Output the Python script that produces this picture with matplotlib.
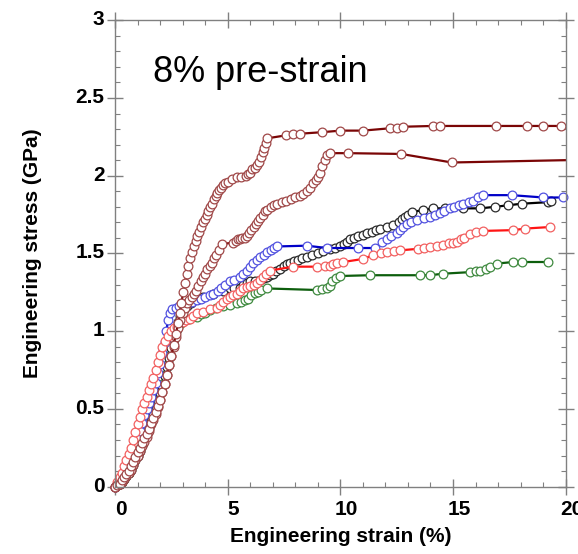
import matplotlib
matplotlib.use("Agg")
import matplotlib.pyplot as plt
import matplotlib.transforms as mtransforms
from matplotlib.ticker import MultipleLocator
import numpy as np

# (strain %, stress GPa), one list per curve
curve_top = [
    (0.0, 0.0), (0.1, 0.01), (0.2, 0.02), (0.3, 0.04), (0.4, 0.06), (0.5, 0.08),
    (0.6, 0.1), (0.7, 0.13), (0.8, 0.16), (0.9, 0.19), (1.0, 0.22), (1.1, 0.25),
    (1.2, 0.28), (1.3, 0.31), (1.4, 0.34), (1.5, 0.37), (1.6, 0.41), (1.7, 0.44),
    (1.8, 0.48), (1.9, 0.52), (2.0, 0.56), (2.1, 0.61), (2.2, 0.66), (2.3, 0.72),
    (2.4, 0.78), (2.5, 0.84), (2.6, 0.91), (2.7, 0.98), (2.8, 1.05), (2.88, 1.12),
    (2.95, 1.18), (3.02, 1.25), (3.1, 1.31), (3.18, 1.37), (3.26, 1.42), (3.34, 1.47),
    (3.42, 1.51), (3.5, 1.55), (3.58, 1.58), (3.66, 1.61), (3.74, 1.64), (3.82, 1.67),
    (3.9, 1.70), (3.98, 1.72), (4.06, 1.75), (4.14, 1.77), (4.22, 1.80), (4.3, 1.82),
    (4.38, 1.85), (4.46, 1.87), (4.54, 1.89), (4.62, 1.91), (4.7, 1.92), (4.8, 1.94),
    (4.9, 1.95), (5.0, 1.96), (5.2, 1.98), (5.4, 1.99), (5.6, 1.99), (5.8, 2.0),
    (5.9, 2.01), (6.0, 2.02), (6.1, 2.04), (6.2, 2.05), (6.3, 2.07), (6.4, 2.09),
    (6.48, 2.12), (6.55, 2.15), (6.62, 2.18), (6.68, 2.21), (6.74, 2.24), (7.6, 2.26),
    (7.9, 2.27), (8.2, 2.27), (9.2, 2.28), (10.0, 2.29), (11.0, 2.29), (12.2, 2.305),
    (12.5, 2.31), (12.8, 2.315), (14.1, 2.32), (14.4, 2.32), (16.9, 2.32), (18.3, 2.32),
    (19.0, 2.32), (19.8, 2.32),
]
curve_second = [
    (0.0, 0.0), (0.1, 0.01), (0.2, 0.02), (0.3, 0.03), (0.4, 0.05), (0.5, 0.07),
    (0.6, 0.09), (0.7, 0.11), (0.8, 0.14), (0.9, 0.17), (1.0, 0.2), (1.1, 0.23),
    (1.2, 0.26), (1.3, 0.29), (1.4, 0.32), (1.5, 0.36), (1.6, 0.40), (1.7, 0.43),
    (1.8, 0.47), (1.9, 0.51), (2.0, 0.56), (2.1, 0.61), (2.2, 0.66), (2.3, 0.72),
    (2.4, 0.78), (2.5, 0.84), (2.6, 0.9), (2.7, 0.96), (2.8, 1.02), (2.9, 1.07),
    (3.0, 1.12), (3.1, 1.15), (3.2, 1.18), (3.3, 1.2), (3.4, 1.22), (3.5, 1.24),
    (3.6, 1.26), (3.7, 1.29), (3.8, 1.32), (3.9, 1.35), (4.0, 1.37), (4.1, 1.4),
    (4.2, 1.42), (4.3, 1.44), (4.4, 1.47), (4.5, 1.49), (4.6, 1.52), (4.75, 1.56),
    (5.25, 1.57), (5.35, 1.58), (5.45, 1.59), (5.55, 1.59), (5.65, 1.6), (5.75, 1.6),
    (5.85, 1.61), (5.95, 1.63), (6.05, 1.65), (6.15, 1.67), (6.25, 1.69), (6.35, 1.71),
    (6.45, 1.73), (6.55, 1.75), (6.65, 1.77), (6.75, 1.78), (6.9, 1.8), (7.05, 1.81),
    (7.2, 1.82), (7.4, 1.83), (7.6, 1.84), (7.8, 1.85), (8.0, 1.86), (8.2, 1.87),
    (8.35, 1.88), (8.5, 1.9), (8.65, 1.92), (8.8, 1.95), (8.9, 1.97), (9.0, 1.99),
    (9.1, 2.02), (9.2, 2.06), (9.3, 2.1), (9.4, 2.13), (9.55, 2.145), (10.35, 2.145),
    (12.7, 2.14), (14.95, 2.085), (20.0, 2.10),
]
curve_blue = [
    (0.0, 0.0), (0.1, 0.02), (0.2, 0.04), (0.3, 0.07), (0.4, 0.1), (0.5, 0.13),
    (0.6, 0.16), (0.7, 0.2), (0.8, 0.24), (0.9, 0.28), (1.0, 0.32), (1.1, 0.36),
    (1.2, 0.41), (1.3, 0.46), (1.4, 0.5), (1.5, 0.54), (1.6, 0.58), (1.7, 0.62),
    (1.8, 0.67), (1.9, 0.73), (2.0, 0.79), (2.1, 0.86), (2.2, 0.93), (2.28, 1.0),
    (2.35, 1.07), (2.42, 1.12), (2.55, 1.14), (2.7, 1.15), (2.85, 1.16), (3.0, 1.17),
    (3.18, 1.18), (3.4, 1.19), (3.63, 1.2), (3.8, 1.21), (4.0, 1.22), (4.2, 1.23),
    (4.36, 1.24), (4.55, 1.26), (4.7, 1.28), (4.9, 1.3), (5.1, 1.32), (5.3, 1.33),
    (5.55, 1.35), (5.7, 1.37), (5.85, 1.39), (6.0, 1.41), (6.14, 1.44), (6.3, 1.46),
    (6.45, 1.48), (6.6, 1.49), (6.75, 1.51), (6.9, 1.52), (7.05, 1.535), (7.18, 1.545),
    (8.5, 1.55), (9.4, 1.535), (10.8, 1.535), (11.54, 1.535), (11.84, 1.575), (12.05, 1.59),
    (12.25, 1.61), (12.5, 1.63), (12.65, 1.65), (12.8, 1.67), (12.95, 1.69), (13.15, 1.7),
    (13.39, 1.715), (13.7, 1.725), (13.98, 1.735), (14.2, 1.745), (14.4, 1.76), (14.6, 1.775),
    (14.87, 1.79), (15.05, 1.8), (15.25, 1.81), (15.46, 1.82), (15.7, 1.83), (15.9, 1.84),
    (16.1, 1.86), (16.35, 1.875), (17.6, 1.875), (19.0, 1.86), (19.9, 1.86),
]
curve_black = [
    (0.0, 0.0), (0.1, 0.01), (0.2, 0.02), (0.3, 0.03), (0.4, 0.05), (0.5, 0.07),
    (0.6, 0.09), (0.7, 0.11), (0.8, 0.14), (0.9, 0.17), (1.0, 0.2), (1.1, 0.23),
    (1.2, 0.27), (1.3, 0.3), (1.4, 0.34), (1.5, 0.38), (1.6, 0.42), (1.7, 0.46),
    (1.8, 0.5), (1.9, 0.55), (2.0, 0.6), (2.1, 0.65), (2.2, 0.71), (2.3, 0.77),
    (2.4, 0.83), (2.5, 0.89), (2.6, 0.95), (2.7, 1.0), (2.8, 1.06), (2.9, 1.1),
    (3.05, 1.14), (3.2, 1.16), (3.35, 1.18), (3.5, 1.2), (3.7, 1.21), (3.92, 1.22),
    (4.36, 1.24), (4.8, 1.26), (5.1, 1.28), (5.3, 1.28), (5.55, 1.28), (5.7, 1.3),
    (5.85, 1.31), (6.0, 1.32), (6.2, 1.32), (6.44, 1.33), (6.6, 1.34), (6.75, 1.35),
    (6.88, 1.36), (7.0, 1.37), (7.15, 1.39), (7.32, 1.4), (7.5, 1.42), (7.65, 1.43),
    (7.77, 1.44), (7.95, 1.45), (8.1, 1.46), (8.3, 1.47), (8.5, 1.48), (8.75, 1.49),
    (9.0, 1.5), (9.25, 1.515), (9.54, 1.53), (9.75, 1.535), (10.0, 1.545), (10.15, 1.56),
    (10.28, 1.575), (10.45, 1.59), (10.6, 1.6), (10.8, 1.61), (11.02, 1.62), (11.2, 1.63),
    (11.4, 1.64), (11.6, 1.65), (11.76, 1.66), (12.05, 1.67), (12.35, 1.68), (12.6, 1.7),
    (12.75, 1.72), (12.87, 1.735), (13.0, 1.75), (13.16, 1.765), (13.68, 1.78), (14.13, 1.79),
    (14.65, 1.79), (15.46, 1.79), (16.2, 1.79), (16.87, 1.8), (17.46, 1.81), (18.05, 1.82),
    (19.23, 1.83), (19.35, 1.84),
]
curve_red = [
    (0.0, 0.0), (0.1, 0.03), (0.22, 0.06), (0.3, 0.09), (0.4, 0.13), (0.5, 0.17),
    (0.6, 0.21), (0.7, 0.25), (0.81, 0.3), (0.9, 0.35), (1.0, 0.4), (1.1, 0.45),
    (1.2, 0.5), (1.3, 0.54), (1.41, 0.58), (1.5, 0.62), (1.6, 0.66), (1.7, 0.7),
    (1.8, 0.75), (1.9, 0.8), (2.0, 0.85), (2.1, 0.9), (2.2, 0.94), (2.35, 0.97),
    (2.5, 1.0), (2.62, 1.02), (2.74, 1.03), (2.85, 1.05), (3.0, 1.06), (3.15, 1.07),
    (3.33, 1.08), (3.48, 1.1), (3.65, 1.115), (3.92, 1.125), (4.2, 1.14), (4.51, 1.15),
    (4.65, 1.17), (4.8, 1.19), (4.95, 1.21), (5.1, 1.22), (5.25, 1.23), (5.4, 1.24),
    (5.55, 1.26), (5.7, 1.275), (5.85, 1.285), (6.0, 1.29), (6.15, 1.3), (6.29, 1.31),
    (6.45, 1.33), (6.58, 1.35), (6.7, 1.37), (6.88, 1.39), (7.9, 1.415), (8.95, 1.415),
    (9.3, 1.42), (9.54, 1.42), (9.69, 1.435), (9.85, 1.44), (10.13, 1.445), (11.02, 1.465),
    (11.46, 1.49), (11.8, 1.5), (12.06, 1.51), (12.4, 1.515), (12.65, 1.52), (13.46, 1.53),
    (13.7, 1.535), (13.98, 1.54), (14.3, 1.545), (14.57, 1.555), (14.8, 1.565), (15.0, 1.57),
    (15.17, 1.575), (15.35, 1.59), (15.5, 1.6), (15.77, 1.625), (16.0, 1.635), (16.35, 1.645),
    (17.68, 1.65), (18.2, 1.66), (19.3, 1.67),
]
curve_green = [
    (0.0, 0.0), (0.1, 0.01), (0.2, 0.02), (0.3, 0.03), (0.4, 0.05), (0.5, 0.07),
    (0.6, 0.09), (0.7, 0.12), (0.8, 0.15), (0.9, 0.18), (1.0, 0.21), (1.1, 0.24),
    (1.2, 0.27), (1.3, 0.31), (1.4, 0.35), (1.5, 0.39), (1.6, 0.43), (1.7, 0.47),
    (1.8, 0.51), (1.9, 0.56), (2.0, 0.61), (2.1, 0.66), (2.2, 0.72), (2.3, 0.78),
    (2.4, 0.84), (2.5, 0.9), (2.6, 0.95), (2.7, 1.0), (2.8, 1.03), (2.95, 1.05),
    (3.1, 1.07), (3.3, 1.08), (3.63, 1.09), (3.8, 1.11), (4.0, 1.12), (4.22, 1.135),
    (4.5, 1.15), (4.8, 1.16), (5.1, 1.17), (5.4, 1.18), (5.6, 1.19), (5.75, 1.2),
    (5.9, 1.21), (6.05, 1.23), (6.2, 1.245), (6.35, 1.255), (6.5, 1.265), (6.73, 1.275),
    (8.95, 1.265), (9.2, 1.27), (9.4, 1.28), (9.54, 1.29), (9.65, 1.32), (9.8, 1.34),
    (9.99, 1.355), (11.32, 1.36), (13.54, 1.36), (13.98, 1.36), (14.57, 1.37), (15.77, 1.38),
    (16.0, 1.385), (16.2, 1.39), (16.45, 1.4), (16.65, 1.415), (16.94, 1.435), (17.68, 1.445),
    (18.05, 1.445), (19.23, 1.445),
]

x_ticks = [0, 5, 10, 15, 20]
x_labels = ["0", "5", "10", "15", "20"]
y_ticks = [0, 0.5, 1, 1.5, 2, 2.5, 3]
y_labels = ["0", "0.5", "1", "1.5", "2", "2.5", "3"]

# (data, line colour, marker edge colour, skip last marker)
series = [
    (curve_green, "#0d5e0d", "#3f8a3f", False),
    (curve_black, "#000000", "#2a2a2a", False),
    (curve_blue, "#0000c8", "#5252e0", False),
    (curve_red, "#ff1414", "#f26060", False),
    (curve_second, "#7a0505", "#a04848", True),
    (curve_top, "#7a0505", "#a04848", False),
]

plt.rcParams["font.family"] = ["Liberation Sans", "DejaVu Sans"]

fig = plt.figure(figsize=(5.78, 5.54), dpi=100)
ax = fig.add_axes([0.199, 0.1215, 0.7797, 0.842])

for data, lc, mc, skip_last in series:
    pts = np.array(data)
    mev = slice(0, len(pts) - 1) if skip_last else None
    ax.plot(pts[:, 0], pts[:, 1], color=lc, lw=1.6, marker="o", ms=6.3,
            mfc="white", mec=mc, mew=0.9, markevery=mev, clip_on=False)

ax.set_xlim(0, 20)
ax.set_ylim(0, 3)
ax.set_xticks(x_ticks)
ax.set_xticklabels(x_labels)
ax.set_yticks(y_ticks)
ax.set_yticklabels(y_labels)
ax.xaxis.set_minor_locator(MultipleLocator(1))
ax.yaxis.set_minor_locator(MultipleLocator(0.1))

for sp in ax.spines.values():
    sp.set_color("#808080")
    sp.set_linewidth(1.0)
ax.tick_params(which="major", direction="inout", length=11, width=1,
               color="#808080", top=True, right=True, labelsize=15)
ax.tick_params(axis="x", which="major", pad=4)
ax.tick_params(axis="y", which="major", pad=2)
ax.tick_params(which="minor", direction="in", length=3.5, width=0.8,
               color="#808080", top=True, right=True)

# x labels in the original sit a little right of their ticks
shift = mtransforms.ScaledTranslation(0.06, 0, fig.dpi_scale_trans)
for lab in ax.get_xticklabels():
    lab.set_fontweight("bold")
    lab.set_transform(lab.get_transform() + shift)
shift_y = mtransforms.ScaledTranslation(0, 0.025, fig.dpi_scale_trans)
for lab in ax.get_yticklabels():
    lab.set_fontweight("bold")
    lab.set_transform(lab.get_transform() + shift_y)

ax.set_xlabel("Engineering strain (%)", fontsize=15, fontweight="bold", labelpad=6)
ax.set_ylabel("Engineering stress (GPa)", fontsize=15, fontweight="bold", labelpad=24)

ax.text(1.69, 2.6, "8% pre-strain", fontsize=26, color="black")

fig.savefig("out.png", dpi=100)
